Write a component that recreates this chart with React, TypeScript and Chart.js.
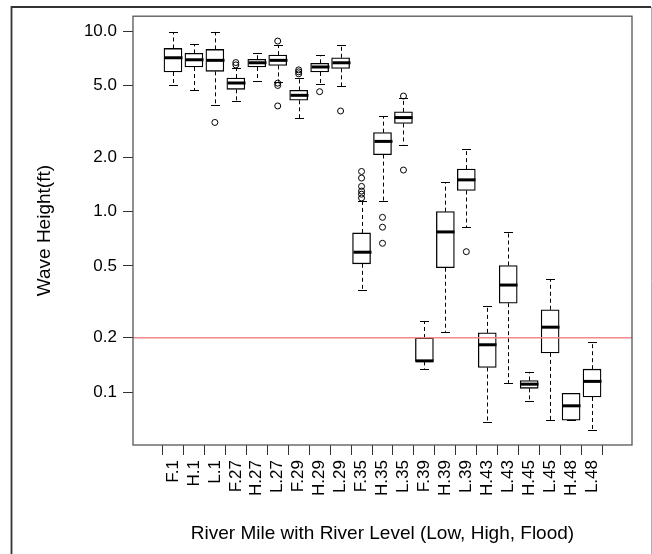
import React, { useEffect, useRef } from "react";
import { Chart, registerables } from "chart.js";

Chart.register(...registerables);

// ---- data ----
const categories = [
  "F.1", "H.1", "L.1", "F.27", "H.27", "L.27", "F.29", "H.29", "L.29", "F.35", "H.35",
  "L.35", "F.39", "H.39", "L.39", "H.43", "L.43", "H.45", "L.45", "H.48", "L.48",
];
const whiskerLow = [
  5.03, 4.7, 3.88, 4.1, 5.3, 5.25, 3.29, 5.07, 4.97, 0.369, 1.15,
  2.35, 0.134, 0.216, 0.82, 0.0686, 0.1125, 0.0895, 0.07, 0.0699, 0.0617,
];
const quartile1 = [
  5.94, 6.33, 5.99, 4.76, 6.33, 6.46, 4.14, 5.94, 6.22, 0.514, 2.07,
  3.08, 0.148, 0.489, 1.31, 0.137, 0.311, 0.105, 0.165, 0.0699, 0.094,
];
const medians = [
  7.12, 6.94, 6.89, 5.16, 6.68, 6.89, 4.41, 6.33, 6.68, 0.596, 2.45,
  3.32, 0.149, 0.772, 1.5, 0.183, 0.392, 0.1107, 0.229, 0.084, 0.1147,
];
const quartile3 = [
  8.02, 7.53, 7.92, 5.5, 6.98, 7.37, 4.7, 6.63, 7.12, 0.762, 2.74,
  3.57, 0.1995, 1.0, 1.72, 0.213, 0.503, 0.116, 0.286, 0.0984, 0.134,
];
const whiskerHigh = [
  9.9, 8.44, 9.9, 6.27, 7.59, 8.34, 5.52, 7.34, 8.34, 1.15, 3.38,
  4.25, 0.248, 1.46, 2.22, 0.299, 0.769, 0.1295, 0.421, 0.0984, 0.189,
];
const outliers: number[][] = [
  [], [], [3.12], [6.5, 6.7], [], [8.81, 5.15, 5.0, 3.85], [5.8, 5.95, 6.1], [4.62], [3.61],
  [1.19, 1.25, 1.3, 1.38, 1.535, 1.67], [0.93, 0.82, 0.668], [4.37, 1.7], [], [], [0.6],
  [], [], [], [], [], [],
];
const yTickValues = [0.1, 0.2, 0.5, 1, 2, 5, 10];
const referenceLevel = 0.2;
const xTitle = "River Mile with River Level (Low, High, Flood)";
const yTitle = "Wave Height(ft)";

const FONT = "'Liberation Sans', Arial, sans-serif";

export default function App() {
  const ref = useRef<HTMLCanvasElement | null>(null);

  useEffect(() => {
    if (!ref.current) return;

    const boxParts = {
      id: "boxParts",
      beforeDraw(chart: any) {
        const { ctx, width, height } = chart;
        ctx.save();
        ctx.fillStyle = "#ffffff";
        ctx.fillRect(0, 0, width, height);
        // outer frame
        ctx.strokeStyle = "#333333";
        ctx.lineWidth = 1.8;
        ctx.beginPath();
        ctx.moveTo(11.5, height);
        ctx.lineTo(11.5, 7);
        ctx.lineTo(651, 7);
        ctx.stroke();
        ctx.strokeStyle = "#b0b0b0";
        ctx.lineWidth = 1;
        ctx.beginPath();
        ctx.moveTo(651.5, 7);
        ctx.lineTo(651.5, height);
        ctx.stroke();
        ctx.restore();
      },
      afterDatasetsDraw(chart: any) {
        const { ctx, chartArea } = chart;
        const x = chart.scales.x;
        const y = chart.scales.y;
        ctx.save();
        categories.forEach((_, i) => {
          const cx = Math.round(x.getPixelForValue(i + 1)) + 0.5;
          const yLo = y.getPixelForValue(whiskerLow[i]);
          const yQ1 = y.getPixelForValue(quartile1[i]);
          const yMed = y.getPixelForValue(medians[i]);
          const yQ3 = y.getPixelForValue(quartile3[i]);
          const yHi = y.getPixelForValue(whiskerHigh[i]);
          // dashed whiskers
          ctx.strokeStyle = "#000";
          ctx.lineWidth = 1;
          ctx.setLineDash([4, 3]);
          ctx.beginPath();
          ctx.moveTo(cx, yQ3);
          ctx.lineTo(cx, yHi);
          ctx.moveTo(cx, yQ1);
          ctx.lineTo(cx, yLo);
          ctx.stroke();
          ctx.setLineDash([]);
          // staples
          ctx.beginPath();
          ctx.moveTo(cx - 4.5, Math.round(yHi) + 0.5);
          ctx.lineTo(cx + 4.5, Math.round(yHi) + 0.5);
          ctx.moveTo(cx - 4.5, Math.round(yLo) + 0.5);
          ctx.lineTo(cx + 4.5, Math.round(yLo) + 0.5);
          ctx.stroke();
          // median
          ctx.lineWidth = 3;
          ctx.beginPath();
          ctx.moveTo(cx - 9, yMed);
          ctx.lineTo(cx + 9, yMed);
          ctx.stroke();
        });
        // reference line
        const yr = y.getPixelForValue(referenceLevel);
        ctx.strokeStyle = "#f08a8a";
        ctx.lineWidth = 1.5;
        ctx.beginPath();
        ctx.moveTo(chartArea.left, yr);
        ctx.lineTo(chartArea.right, yr);
        ctx.stroke();
        // plot box
        ctx.strokeStyle = "#555555";
        ctx.lineWidth = 1.3;
        ctx.strokeRect(chartArea.left, chartArea.top, chartArea.right - chartArea.left, chartArea.bottom - chartArea.top);
        ctx.restore();
      },
    };

    const boxData = categories.map((_, i) => ({ x: i + 1, y: [quartile1[i], quartile3[i]] }));
    const outlierData: { x: number; y: number }[] = [];
    outliers.forEach((list, i) => list.forEach((v) => outlierData.push({ x: i + 1, y: v })));

    const chart = new Chart(ref.current, {
      type: "bar",
      data: {
        datasets: [
          {
            type: "scatter",
            data: outlierData as any,
            pointStyle: "circle",
            pointRadius: 3,
            pointBorderWidth: 1,
            pointBorderColor: "#000",
            pointBackgroundColor: "rgba(0,0,0,0)",
            showLine: false,
          } as any,
          {
            type: "bar",
            data: boxData as any,
            backgroundColor: "#ffffff",
            borderColor: "#000000",
            borderWidth: 1.3,
            borderSkipped: false,
            barThickness: 18,
          } as any,
        ],
      },
      options: {
        responsive: false,
        animation: false,
        devicePixelRatio: 1,
        events: [],
        layout: { padding: { left: 0, top: 15, right: 20, bottom: 0 } },
        plugins: { legend: { display: false }, tooltip: { enabled: false } },
        scales: {
          x: {
            type: "linear",
            min: -0.34,
            max: 22.34,
            bounds: "data",
            afterBuildTicks: (s: any) => {
              s.ticks = categories.map((_, i) => ({ value: i + 1 }));
            },
            afterFit: (s: any) => {
              s.height = 109;
            },
            ticks: {
              autoSkip: false,
              minRotation: 90,
              maxRotation: 90,
              padding: 5,
              color: "#000",
              font: { family: FONT, size: 17 },
              callback: (v: any) => categories[Math.round(Number(v)) - 1] ?? "",
            },
            grid: { drawOnChartArea: false, drawTicks: true, tickLength: 10, color: "#333" },
            border: { display: false },
            title: {
              display: true,
              text: xTitle,
              color: "#000",
              font: { family: FONT, size: 19 },
              padding: { top: 0, bottom: 8.6 },
            },
          },
          y: {
            type: "logarithmic",
            min: 0.05095,
            max: 12.1,
            bounds: "data",
            afterBuildTicks: (s: any) => {
              s.ticks = yTickValues.map((v) => ({ value: v }));
            },
            afterFit: (s: any) => {
              s.width = 133;
            },
            ticks: {
              padding: 6,
              color: "#000",
              font: { family: FONT, size: 17 },
              callback: (v: any) => Number(v).toFixed(1),
            },
            grid: { drawOnChartArea: false, drawTicks: true, tickLength: 10, color: "#333" },
            border: { display: false },
            title: {
              display: true,
              text: yTitle,
              color: "#000",
              font: { family: FONT, size: 19 },
              padding: { top: 33.6, bottom: 0 },
            },
          },
        },
      } as any,
      plugins: [boxParts as any],
    });

    return () => chart.destroy();
  }, []);

  return (
    <div style={{ position: "fixed", left: 0, top: 0, width: 652, height: 554, overflow: "hidden", background: "#fff" }}>
      <canvas ref={ref} width={652} height={554} style={{ display: "block", width: 652, height: 554 }} />
    </div>
  );
}
